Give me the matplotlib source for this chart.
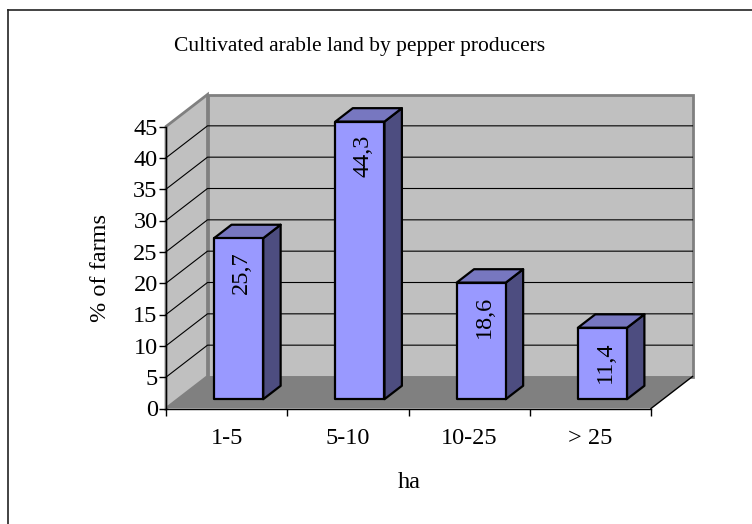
import matplotlib
matplotlib.use("Agg")
import matplotlib.pyplot as plt
from matplotlib.lines import Line2D
from matplotlib.patches import Polygon

plt.rcParams["font.family"] = ["Liberation Serif", "DejaVu Serif"]

categories = ["1-5", "5-10", "10-25", "> 25"]
values = [25.7, 44.3, 18.6, 11.4]
value_labels = ["25,7", "44,3", "18,6", "11,4"]
y_ticks = [0, 5, 10, 15, 20, 25, 30, 35, 40, 45]

title = "Cultivated arable land by pepper producers"
x_title = "ha"
y_title = "% of farms"

W, H = 752, 524
wall_col = "#c0c0c0"
floor_col = "#808080"
bar_front = "#9999ff"
bar_top = "#7777c0"
bar_side = "#4d4d80"
fs_title = 15.5
fs = 17.5

# depth of the fake 3d box, in data units
depth_x = 41.5 / (485 / 4)
depth_y = 32 / (282 / 45)
bar_w = 0.405
# how far the bar front sits back from the front edge, as part of the depth
gap = 0.29
bar_depth = 0.42

fig = plt.figure(figsize=(W / 100, H / 100), dpi=100)
# only the top and left of the outer border are in the picture
fig.add_artist(Line2D([8 / W, 8 / W], [0, 1 - 9.5 / H], color="#222222", lw=1.2))
fig.add_artist(Line2D([8 / W, 1], [1 - 9.5 / H, 1 - 9.5 / H], color="#222222", lw=1.2))

ax = fig.add_axes([166 / W, 1 - 408.5 / H, 485 / W, 282 / H])
ax.set_xlim(0, len(categories))
ax.set_ylim(0, 45)
ax.patch.set_visible(False)
for s in ["top", "right"]:
    ax.spines[s].set_visible(False)
for s in ["left", "bottom"]:
    ax.spines[s].set_linewidth(1)
    ax.spines[s].set_zorder(10)

n = len(categories)
top = y_ticks[-1]

# back wall, side wall, floor
ax.add_patch(Polygon([(depth_x, depth_y), (n + depth_x, depth_y), (n + depth_x, top + depth_y), (depth_x, top + depth_y)],
                     fc=wall_col, ec=floor_col, lw=2, clip_on=False, zorder=1))
ax.add_patch(Polygon([(0, 0), (depth_x, depth_y), (depth_x, top + depth_y), (0, top)],
                     fc=wall_col, ec=floor_col, lw=2, clip_on=False, zorder=1))
ax.add_patch(Polygon([(0, 0), (n, 0), (n + depth_x, depth_y), (depth_x, depth_y)],
                     fc=floor_col, ec="none", clip_on=False, zorder=2))
ax.plot([n, n + depth_x], [0, depth_y], color="black", lw=1, clip_on=False, zorder=3)

# the top line stays the grey edge of the wall
for t in y_ticks[1:-1]:
    ax.plot([0, depth_x, n + depth_x], [t, t + depth_y, t + depth_y], color="black", lw=0.8,
            clip_on=False, zorder=3)

dx0 = gap * depth_x
dy0 = gap * depth_y
dx1 = bar_depth * depth_x
dy1 = bar_depth * depth_y
for i, v in enumerate(values):
    x0 = i + 0.5 - bar_w / 2 + dx0
    x1 = x0 + bar_w
    y0 = dy0
    y1 = dy0 + v
    edge = dict(ec="black", lw=1.6, joinstyle="round", clip_on=False, zorder=5)
    ax.add_patch(Polygon([(x1, y0), (x1 + dx1, y0 + dy1), (x1 + dx1, y1 + dy1), (x1, y1)], fc=bar_side, **edge))
    ax.add_patch(Polygon([(x0, y1), (x1, y1), (x1 + dx1, y1 + dy1), (x0 + dx1, y1 + dy1)], fc=bar_top, **edge))
    ax.add_patch(Polygon([(x0, y0), (x1, y0), (x1, y1), (x0, y1)], fc=bar_front, **edge))
    ax.text((x0 + x1) / 2 + 0.025, y1 - 5.5, value_labels[i], rotation=90, ha="center", va="center", fontsize=fs, zorder=6)

ax.set_yticks(y_ticks)
ax.set_xticks(range(n + 1))
ax.set_xticklabels([])
ax.tick_params(axis="x", length=5, width=1)
ax.tick_params(axis="y", length=5, width=1, labelsize=fs, pad=1)
for i, c in enumerate(categories):
    ax.annotate(c, (i + 0.5, 0), xytext=(0, -30), textcoords="offset pixels", ha="center", va="center", fontsize=fs)

fig.text(360 / W, 1 - 46 / H, title, ha="center", va="center", fontsize=fs_title)
fig.text(409 / W, 1 - 483 / H, x_title, ha="center", va="center", fontsize=fs)
fig.text(100 / W, 1 - 268 / H, y_title, rotation=90, ha="center", va="center", fontsize=fs)

fig.savefig("out.png", dpi=100)
